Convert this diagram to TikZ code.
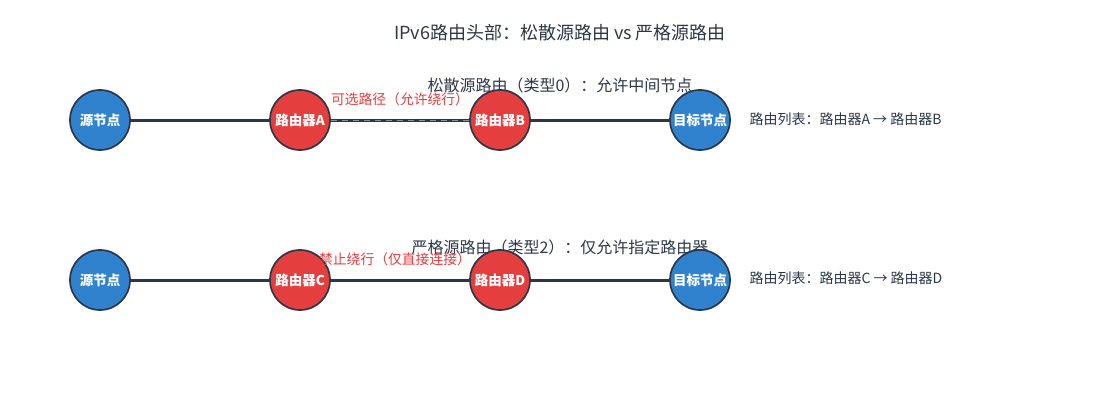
\documentclass[tikz,border=0pt]{standalone}
\usepackage{fontspec}
\setmainfont{Noto Sans CJK SC}
\newfontfamily\cjk{Noto Sans CJK SC}
\definecolor{edgec}{HTML}{2D3748}
\definecolor{bluec}{HTML}{3182CE}
\definecolor{redc}{HTML}{E53E3E}
\definecolor{textc}{HTML}{2D3748}
\definecolor{dashc}{HTML}{8A93A3}
\begin{document}
\begin{tikzpicture}[x=1pt,y=-1pt,
  nodebase/.style={circle,draw=edgec,line width=1.7pt,minimum size=60pt,inner sep=0pt,text=white,font=\cjk\bfseries\fontsize{13.5}{14}\selectfont},
  endnode/.style={nodebase,fill=bluec},
  routernode/.style={nodebase,fill=redc},
  link/.style={draw=edgec,line width=3pt},
  hint/.style={text=redc,font=\cjk\fontsize{13.8}{15}\selectfont},
  sub/.style={text=textc,font=\cjk\fontsize{16}{18}\selectfont},
  listtxt/.style={text=textc,font=\cjk\fontsize{14}{16}\selectfont,anchor=west}]
\useasboundingbox[fill=white] (0,0) rectangle (1120,420);
\node[text=textc,font=\cjk\fontsize{18}{21}\selectfont] (title) at (560,33) {IPv6路由头部：松散源路由 vs 严格源路由};
\node[sub] (sub1) at (560,85) {松散源路由（类型0）：允许中间节点};
\node[sub] (sub2) at (560,247) {严格源路由（类型2）：仅允许指定路由器};
% row 1
\node[endnode] (s1) at (100,120) {源节点};
\node[routernode] (ra) at (300,120) {路由器A};
\node[routernode] (rb) at (500,120) {路由器B};
\node[endnode] (t1) at (700,120) {目标节点};
\draw[link] (s1) -- (ra);
\draw[link] (ra) -- (rb);
\draw[draw=dashc,line width=1pt,dash pattern=on 6pt off 5pt] (ra) -- (rb);
\draw[link] (rb) -- (t1);
% row 2
\node[endnode] (s2) at (100,280) {源节点};
\node[routernode] (rc) at (300,280) {路由器C};
\node[routernode] (rd) at (500,280) {路由器D};
\node[endnode] (t2) at (700,280) {目标节点};
\draw[link] (s2) -- (rc);
\draw[link] (rc) -- (rd);
\draw[link] (rd) -- (t2);
\node[hint] (h1) at (400,99) {可选路径（允许绕行）};
\node[hint] (h2) at (395,259) {禁止绕行（仅直接连接）};
\node[listtxt] (l1) at (746,119) {路由列表：路由器A → 路由器B};
\node[listtxt] (l2) at (746,278) {路由列表：路由器C → 路由器D};
\end{tikzpicture}
\end{document}
